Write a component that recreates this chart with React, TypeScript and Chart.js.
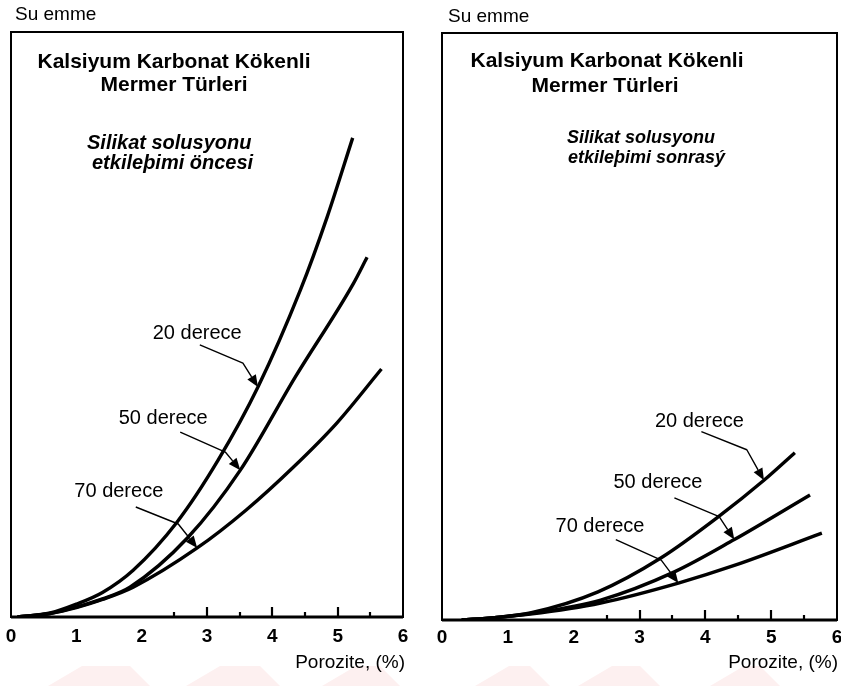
import { useEffect, useRef } from "react";
import { Chart, registerables } from "chart.js";

Chart.register(...registerables);

const FONT = '"Liberation Sans", Arial, Helvetica, sans-serif';

// Porozite axis
const POROZITE_TICK_LABELS = ["0", "1", "2", "3", "4", "5", "6"];
const POROZITE_TICK_MARKS = [2.5, 3, 3.5, 4, 4.5, 5, 5.5];
const SERIES_NAMES = ["20 derece", "50 derece", "70 derece"];

// Before silicate solution treatment
const oncesiPorozite20 = [0.1, 0.6, 1.0, 1.4, 1.87, 2.54, 3.17, 3.78, 4.43, 4.84, 5.23];
const oncesiSuEmme20 = [0, 0.7, 2.2, 4.2, 8.0, 16.2, 26.8, 39.3, 55.9, 68.4, 81.9];
const oncesiPorozite50 = [0.1, 0.6, 1.0, 1.4, 1.82, 2.7, 3.51, 4.35, 5.24, 5.45];
const oncesiSuEmme50 = [0, 0.6, 1.7, 3.1, 5.1, 13.5, 25.1, 41.0, 57.0, 61.5];
const oncesiPorozite70 = [0.1, 0.6, 1.0, 1.4, 1.87, 2.85, 3.6, 4.32, 4.99, 5.67];
const oncesiSuEmme70 = [0, 0.6, 1.6, 3.0, 5.1, 11.8, 18.3, 25.6, 33.2, 42.4];

// After silicate solution treatment
const sonrasiPorozite20 = [0.3, 0.8, 1.34, 2.37, 3.33, 4.2, 4.89, 5.36];
const sonrasiSuEmme20 = [0, 0.4, 1.2, 4.8, 10.6, 17.6, 23.8, 28.5];
const sonrasiPorozite50 = [0.3, 0.8, 1.34, 2.41, 3.53, 4.44, 5.59];
const sonrasiSuEmme50 = [0, 0.4, 1.1, 3.4, 8.2, 13.7, 21.3];
const sonrasiPorozite70 = [0.3, 0.8, 1.34, 2.41, 3.59, 4.44, 5.77];
const sonrasiSuEmme70 = [0, 0.4, 1.0, 2.9, 6.3, 9.3, 14.8];

type Pt = [number, number];
type Leader = { series: number; tip: number; label: Pt; start: Pt; bend: Pt };

type PanelSpec = {
  left: number;
  width: number;
  padding: { left: number; right: number; top: number; bottom: number };
  xs: number[][];
  ys: number[][];
  leaders: Leader[];
  subtitle: string[];
  subtitleFont: string;
  stamps: number[][];
  text: {
    yTitle: Pt;
    title1: Pt;
    title2: Pt;
    sub1: Pt;
    sub2: Pt;
    tickY: number;
    xTitle: Pt;
  };
};

const PANELS: PanelSpec[] = [
  {
    left: 0,
    width: 420,
    padding: { left: 11, right: 17, top: 32, bottom: 69 },
    xs: [oncesiPorozite20, oncesiPorozite50, oncesiPorozite70],
    ys: [oncesiSuEmme20, oncesiSuEmme50, oncesiSuEmme70],
    leaders: [
      { series: 0, tip: 7, label: [2.85, 48.5], start: [2.89, 46.5], bend: [3.55, 43.4] },
      { series: 1, tip: 6, label: [2.33, 34.0], start: [2.59, 31.6], bend: [3.28, 28.2] },
      { series: 2, tip: 5, label: [1.65, 21.4], start: [1.91, 18.8], bend: [2.56, 15.9] },
    ],
    subtitle: ["Silikat solusyonu", "etkileþimi öncesi"],
    subtitleFont: `italic bold 20px ${FONT}`,
    stamps: [
      [48, 150],
      [186, 280],
      [322, 400],
    ],
    text: {
      yTitle: [4, -12],
      title1: [163, 36],
      title2: [163, 59],
      sub1: [76, 117],
      sub2: [81, 137],
      tickY: 20,
      xTitle: [2, 46],
    },
  },
  {
    left: 420,
    width: 421,
    padding: { left: 22, right: 4, top: 33, bottom: 66 },
    xs: [sonrasiPorozite20, sonrasiPorozite50, sonrasiPorozite70],
    ys: [sonrasiSuEmme20, sonrasiSuEmme50, sonrasiSuEmme70],
    leaders: [
      { series: 0, tip: 6, label: [3.91, 33.8], start: [3.94, 32.1], bend: [4.63, 29.0] },
      { series: 1, tip: 5, label: [3.28, 23.4], start: [3.53, 20.8], bend: [4.21, 17.6] },
      { series: 2, tip: 4, label: [2.4, 15.9], start: [2.64, 13.7], bend: [3.33, 10.2] },
    ],
    subtitle: ["Silikat solusyonu", "etkileþimi sonrasý"],
    subtitleFont: `italic bold 18px ${FONT}`,
    stamps: [
      [55, 130],
      [158, 240],
      [290, 360],
    ],
    text: {
      yTitle: [6, -11],
      title1: [165, 34],
      title2: [163, 59],
      sub1: [125, 110],
      sub2: [126, 130],
      tickY: 18,
      xTitle: [1, 43],
    },
  },
];

function drawArrow(ctx: CanvasRenderingContext2D, pts: { x: number; y: number }[]) {
  const tip = pts[pts.length - 1];
  const prev = pts[pts.length - 2];
  const ang = Math.atan2(tip.y - prev.y, tip.x - prev.x);
  const headLen = 12;
  const headW = 5;
  const bx = tip.x - headLen * Math.cos(ang);
  const by = tip.y - headLen * Math.sin(ang);
  ctx.save();
  ctx.strokeStyle = "#000";
  ctx.fillStyle = "#000";
  ctx.lineWidth = 1.4;
  ctx.lineJoin = "round";
  ctx.beginPath();
  ctx.moveTo(pts[0].x, pts[0].y);
  for (let i = 1; i < pts.length - 1; i++) ctx.lineTo(pts[i].x, pts[i].y);
  ctx.lineTo(bx, by);
  ctx.stroke();
  ctx.beginPath();
  ctx.moveTo(tip.x, tip.y);
  ctx.lineTo(bx + headW * Math.sin(ang), by - headW * Math.cos(ang));
  ctx.lineTo(bx - headW * Math.sin(ang), by + headW * Math.cos(ang));
  ctx.closePath();
  ctx.fill();
  ctx.restore();
}

function panelPlugin(spec: PanelSpec) {
  return {
    id: "panelDecor",
    beforeDatasetsDraw(chart: any) {
      const { ctx, chartArea: a, scales, height } = chart;
      const sx = scales.x;
      const t = spec.text;
      ctx.save();
      // faint pink stamp bands along the lower edge of the sheet
      ctx.fillStyle = "rgba(240, 110, 110, 0.10)";
      spec.stamps.forEach(([x0, x1]) => {
        ctx.beginPath();
        ctx.moveTo(x0, height);
        ctx.lineTo(x0 + 34, height - 20);
        ctx.lineTo(x1 - 20, height - 20);
        ctx.lineTo(x1, height);
        ctx.closePath();
        ctx.fill();
      });
      // frame
      ctx.strokeStyle = "#000";
      ctx.lineWidth = 2;
      ctx.strokeRect(a.left, a.top, a.right - a.left, a.bottom - a.top);
      // bottom axis line
      ctx.lineWidth = 3;
      ctx.beginPath();
      ctx.moveTo(a.left, a.bottom);
      ctx.lineTo(a.right, a.bottom);
      ctx.stroke();
      // inward tick marks
      ctx.lineWidth = 2.2;
      POROZITE_TICK_MARKS.forEach((v) => {
        const px = Math.round(sx.getPixelForValue(v));
        const len = Number.isInteger(v) ? 10 : 5;
        ctx.beginPath();
        ctx.moveTo(px, a.bottom);
        ctx.lineTo(px, a.bottom - len);
        ctx.stroke();
      });
      ctx.fillStyle = "#000";
      // tick labels
      ctx.font = `bold 19px ${FONT}`;
      ctx.textAlign = "center";
      ctx.textBaseline = "middle";
      POROZITE_TICK_LABELS.forEach((lbl) => {
        ctx.fillText(lbl, sx.getPixelForValue(Number(lbl)), a.bottom + t.tickY);
      });
      // axis titles
      ctx.font = `19px ${FONT}`;
      ctx.textAlign = "right";
      ctx.fillText("Porozite, (%)", a.right + t.xTitle[0], a.bottom + t.xTitle[1]);
      ctx.textAlign = "left";
      ctx.textBaseline = "alphabetic";
      ctx.font = `19px ${FONT}`;
      ctx.fillText("Su emme", a.left + t.yTitle[0], a.top + t.yTitle[1]);
      // panel title
      ctx.font = `bold 21px ${FONT}`;
      ctx.textAlign = "center";
      ctx.fillText("Kalsiyum Karbonat Kökenli", a.left + t.title1[0], a.top + t.title1[1]);
      ctx.fillText("Mermer Türleri", a.left + t.title2[0], a.top + t.title2[1]);
      // subtitle
      ctx.font = spec.subtitleFont;
      ctx.textAlign = "left";
      ctx.fillText(spec.subtitle[0], a.left + t.sub1[0], a.top + t.sub1[1]);
      ctx.fillText(spec.subtitle[1], a.left + t.sub2[0], a.top + t.sub2[1]);
      ctx.restore();
    },
    afterDatasetsDraw(chart: any) {
      const { ctx, scales } = chart;
      const sx = scales.x;
      const sy = scales.y;
      const toPx = (p: Pt) => ({ x: sx.getPixelForValue(p[0]), y: sy.getPixelForValue(p[1]) });
      ctx.save();
      ctx.fillStyle = "#000";
      ctx.font = `20px ${FONT}`;
      ctx.textAlign = "center";
      ctx.textBaseline = "middle";
      spec.leaders.forEach((ld) => {
        const lp = toPx(ld.label);
        ctx.fillText(SERIES_NAMES[ld.series], lp.x, lp.y);
        const el = chart.getDatasetMeta(ld.series).data[ld.tip];
        drawArrow(ctx, [toPx(ld.start), toPx(ld.bend), { x: el.x, y: el.y }]);
      });
      ctx.restore();
    },
  };
}

function Panel({ spec }: { spec: PanelSpec }) {
  const ref = useRef<HTMLCanvasElement>(null);
  useEffect(() => {
    if (!ref.current) return;
    const chart = new Chart(ref.current, {
      type: "line",
      data: {
        datasets: spec.xs.map((xs, i) => ({
          label: SERIES_NAMES[i],
          data: xs.map((x, j) => ({ x, y: spec.ys[i][j] })),
          borderColor: "#000",
          borderWidth: 3.4,
          pointRadius: 0,
          cubicInterpolationMode: "monotone" as const,
          fill: false,
        })),
      },
      options: {
        animation: false,
        responsive: false,
        devicePixelRatio: 1,
        layout: { padding: spec.padding },
        plugins: { legend: { display: false }, tooltip: { enabled: false } },
        events: [],
        scales: {
          x: { type: "linear", min: 0, max: 6, display: false },
          y: { type: "linear", min: 0, max: 100, display: false },
        },
      },
      plugins: [panelPlugin(spec)],
    });
    return () => chart.destroy();
  }, [spec]);
  return (
    <canvas
      ref={ref}
      width={spec.width}
      height={686}
      style={{ position: "absolute", left: spec.left, top: 0, width: spec.width, height: 686 }}
    />
  );
}

export default function App() {
  return (
    <div style={{ position: "absolute", left: 0, top: 0, width: 841, height: 686, background: "#fff", overflow: "hidden" }}>
      {PANELS.map((p, i) => (
        <Panel key={i} spec={p} />
      ))}
    </div>
  );
}
